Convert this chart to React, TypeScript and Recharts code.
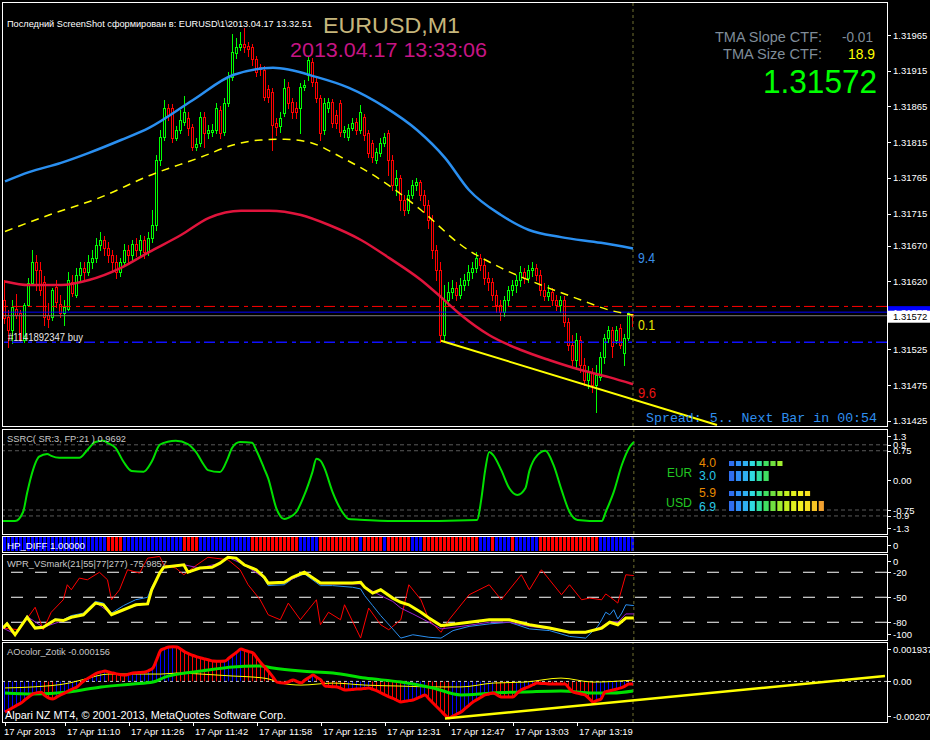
import React from 'react';
import { ComposedChart, Bar, Line, XAxis, YAxis, ReferenceLine } from 'recharts';

const FONT = '"Liberation Sans", Arial, sans-serif';
const MONO = '"Liberation Mono", "DejaVu Sans Mono", monospace';
const SLOTS = 221;
const CUR = 157;

type Pt = [number, number];

const timeTickBars = [0, 15, 31, 47, 63, 79, 95, 111, 127, 143];
const timeTickLabels = ['17 Apr 2013', '17 Apr 11:10', '17 Apr 11:26', '17 Apr 11:42', '17 Apr 11:58', '17 Apr 12:15', '17 Apr 12:31', '17 Apr 12:47', '17 Apr 13:03', '17 Apr 13:19'];

// M1 candles, price = 1.31 + pts / 100000
const openPts = [594,570,552,581,576,538,587,618,647,636, 619,573,570,612,588,576,581,619,601,629, 639,633,647,653,671,678,667,657,647,633, 647,664,657,672,664,678,661,681,699,790, 822,863,863,821,832,843,849,836,808,814, 850,828,829,832,860,829,870,906,940,948, 952,950,948,931,920,916,889,885,842,838, 856,892,871,863,863,892,909,927,899,877, 832,863,871,853,870,829,822,835,843,832, 850,828,814,790,800,814,828,790,755,765, 734,720,741,755,759,741,727,706,664,636, 545,594,605,611,601,615,622,633,639,653, 643,625,619,601,587,577,594,608,615,622, 633,625,636,639,629,608,600,605,594,587, 594,563,531,510,538,503,482,493,475,486, 514,541,552,538,555,520,541,574];
const closePts = [569,552,584,573,538,587,618,647,636,608, 570,567,608,591,576,584,622,604,629,639, 633,647,653,671,678,667,657,647,633,647, 664,657,672,664,678,661,681,699,790,822, 863,853,821,832,846,857,835,808,812,850, 828,832,832,863,828,870,906,941,948,952, 948,945,931,913,917,878,878,839,836,849, 891,870,857,857,892,895,930,899,877,828, 870,871,842,842,829,832,835,842,832,857, 825,800,794,801,814,822,790,755,765,734, 720,741,755,759,741,727,706,664,636,545, 594,605,611,601,615,622,633,639,653,643, 625,619,601,587,577,594,608,615,622,633, 625,636,639,629,608,600,605,594,587,594, 563,531,510,538,503,482,493,475,489,514, 541,552,530,552,531,541,576,572];
const highPts = [622,580,594,602,580,590,625,664,657,647, 628,590,611,622,601,594,633,629,639,647, 647,657,664,681,689,684,675,664,657,653, 672,671,678,681,685,684,689,720,797,832, 874,868,868,838,860,880,857,840,821,857, 857,839,840,870,866,877,913,966,961,969, 975,955,952,936,924,922,895,891,849,857, 903,899,877,871,898,902,934,933,905,881, 877,877,875,860,874,838,840,849,849,867, 854,832,818,807,821,828,832,797,776,769, 741,748,762,765,762,748,734,713,671,647, 615,619,622,619,625,630,643,647,661,658, 650,633,625,608,594,600,614,622,629,642, 639,643,647,644,636,618,615,611,601,600, 600,569,545,548,544,513,502,499,503,521, 546,558,556,558,560,546,577,575];
const lowPts = [562,528,534,569,535,535,586,615,608,601, 559,556,566,584,570,559,580,600,598,619, 622,629,639,647,664,657,647,636,625,628, 642,647,650,656,657,653,657,675,692,783, 818,846,815,818,828,839,825,804,804,810, 808,821,824,828,821,825,866,902,933,944, 941,936,923,908,909,874,871,804,825,829, 852,863,849,849,828,888,902,894,871,818, 826,857,836,835,824,822,818,832,826,828, 818,794,787,786,796,810,769,748,741,720, 713,716,737,748,734,717,695,653,622,535, 538,587,597,594,597,608,615,625,633,636, 616,608,594,577,566,572,587,601,605,614, 618,619,628,622,601,594,594,587,580,577, 558,524,503,499,493,475,471,465,437,482, 506,535,514,534,527,503,538,557];

const priceTicks = [1.31965, 1.31915, 1.31865, 1.31815, 1.31765, 1.31715, 1.3167, 1.3162, 1.31577, 1.31572, 1.31525, 1.31475, 1.31425];
const askPrice = 1.31577;
const bidPrice = 1.31572;
const sellLevel = 1.31585;
const buyLevel = 1.31535;

const tmaUpper: Pt[] = [[0,1.31760],[6,1.31773],[14,1.31786],[21,1.31800],[29,1.31818],[36,1.31835],[47,1.31874],[57,1.31909],[67,1.31919],[78,1.31906],[86,1.31891],[95,1.31864],[103,1.31832],[110,1.31793],[116,1.31748],[124,1.31713],[131,1.31692],[139,1.31682],[149,1.31674],[157,1.31666]];
const tmaMid: Pt[] = [[0,1.31690],[11,1.31713],[24,1.31738],[36,1.31768],[49,1.31794],[57,1.31811],[64,1.31818],[70,1.31819],[76,1.31815],[84,1.31794],[94,1.31762],[104,1.31720],[114,1.31671],[124,1.31639],[134,1.31615],[144,1.31594],[151,1.31580],[157,1.31573]];
const tmaLower: Pt[] = [[0,1.31620],[6,1.31615],[14,1.31615],[21,1.31622],[29,1.31639],[36,1.31661],[44,1.31685],[51,1.31709],[59,1.31719],[66,1.31719],[74,1.31713],[81,1.31699],[89,1.31678],[96,1.31653],[104,1.31622],[109,1.31598],[114,1.31573],[121,1.31545],[129,1.31524],[136,1.31510],[144,1.31496],[151,1.31486],[157,1.31476]];
const mainTrend: Pt[] = [[109, 1.31537], [178, 1.31419]];

const ssrcPts: Pt[] = [[0,-1.03],[3,-1.03],[5,-0.8],[6,-0.32],[7,0.1],[9,0.6],[11,0.67],[12,0.62],[14,0.57],[19,0.57],[21,0.77],[23,0.97],[25,1.0],[26,0.95],[28,0.82],[30,0.47],[32,0.24],[35,0.22],[37,0.47],[39,0.9],[41,0.98],[43,1.0],[46,0.92],[48,0.72],[50,0.39],[51,0.26],[54,0.21],[56,0.57],[57,0.82],[59,0.97],[62,0.95],[63,0.77],[65,0.3],[66,0.05],[68,-0.7],[70,-0.98],[71,-0.95],[73,-0.8],[75,-0.37],[77,0.21],[78,0.55],[79,0.5],[80,0.31],[82,-0.29],[85,-0.88],[86,-0.98],[90,-1.0],[99,-1.03],[118,-1.0],[119,-0.5],[120,0.26],[121,0.72],[122,0.64],[124,0.26],[126,-0.2],[128,-0.37],[130,-0.2],[131,0.24],[133,0.64],[135,0.75],[137,0.39],[139,-0.24],[141,-0.8],[143,-1.0],[149,-1.03],[150,-0.8],[152,-0.29],[154,0.39],[156,0.85],[157,0.97]];
const ssrcTicks = [1.3, 0.9, 0.75, 0, -0.75, -0.9, -1.3];
const ssrcTickLabels = ['1.3', '0.9', '0.75', '0.00', '-0.75', '-0.9', '-1.3'];
const ssrcLevels = [0.9, 0.75, -0.75, -0.9];

// HP_DIFF runs: [length in bars, state]
const hpRuns: [number, string][] = [[26,'b'],[4,'r'],[15,'b'],[4,'r'],[13,'b'],[12,'r'],[5,'b'],[10,'r'],[1,'b'],[5,'r'],[1,'b'],[6,'r'],[3,'b'],[14,'r'],[3,'b'],[1,'r'],[4,'b'],[1,'r'],[6,'b'],[15,'r'],[9,'b']];

const wprYellow: Pt[] = [[0,-87],[1,-82],[3,-95],[6,-74],[8,-87],[10,-86],[13,-77],[15,-78],[17,-74],[20,-71],[23,-57],[25,-59],[27,-71],[30,-65],[33,-59],[36,-58],[37,-41],[39,-21],[40,-14],[45,-11],[46,-20],[49,-15],[52,-14],[54,-9],[56,-2],[58,-3],[60,-11],[63,-17],[65,-26],[66,-33],[70,-32],[72,-26],[75,-20],[79,-33],[82,-33],[87,-33],[89,-32],[90,-38],[92,-45],[94,-41],[97,-51],[99,-56],[101,-59],[104,-68],[106,-75],[109,-84],[111,-83],[116,-80],[121,-77],[126,-77],[131,-83],[136,-87],[141,-92],[145,-92],[149,-87],[151,-80],[153,-83],[155,-75],[157,-75]];
const wprBlue: Pt[] = [[0,-86],[1,-80],[3,-94],[6,-72],[8,-86],[10,-85],[13,-76],[15,-77],[17,-72],[20,-69],[23,-55],[25,-57],[27,-69],[30,-60],[33,-53],[36,-50],[37,-38],[39,-21],[40,-14],[45,-11],[46,-20],[49,-15],[52,-14],[54,-9],[56,-2],[58,-4],[60,-12],[63,-18],[65,-28],[66,-36],[70,-35],[72,-28],[75,-22],[79,-36],[82,-36],[87,-38],[89,-40],[90,-48],[92,-60],[94,-72],[97,-88],[99,-99],[102,-95],[106,-98],[109,-99],[112,-90],[116,-85],[121,-82],[126,-80],[131,-88],[136,-90],[141,-97],[145,-99],[148,-85],[149,-77],[150,-68],[151,-71],[152,-65],[153,-76],[154,-69],[155,-59],[157,-60]];
const wprPurple: Pt[] = [[0,-87],[3,-94],[6,-73],[10,-86],[15,-78],[20,-70],[23,-56],[27,-70],[30,-64],[36,-57],[37,-40],[39,-21],[40,-14],[45,-11],[49,-15],[54,-9],[56,-2],[60,-11],[65,-27],[66,-34],[70,-33],[75,-21],[79,-34],[87,-34],[89,-34],[91,-40],[94,-48],[97,-55],[99,-63],[102,-70],[106,-80],[109,-88],[114,-85],[121,-80],[126,-80],[131,-85],[136,-88],[141,-93],[145,-93],[149,-85],[151,-79],[153,-80],[155,-70],[157,-70]];
const wprRed: Pt[] = [[0,-87],[4,-89],[8,-62],[10,-89],[12,-68],[15,-53],[16,-35],[17,-41],[19,-27],[21,-29],[24,-20],[26,-29],[27,-53],[29,-41],[31,-17],[34,-21],[36,-3],[39,-1],[40,-11],[43,-15],[45,-23],[48,-12],[51,-2],[56,-5],[59,-17],[61,-35],[64,-53],[66,-71],[69,-77],[71,-57],[74,-77],[76,-65],[78,-53],[79,-83],[81,-68],[84,-77],[85,-59],[88,-89],[89,-99],[91,-63],[94,-83],[96,-89],[99,-77],[101,-35],[104,-53],[106,-77],[109,-92],[111,-77],[116,-47],[121,-35],[124,-53],[129,-23],[131,-41],[134,-17],[136,-29],[139,-47],[141,-35],[144,-53],[146,-51],[149,-53],[150,-46],[152,-53],[153,-57],[155,-23],[157,-24]];
const wprTicks = [0, -20, -50, -80, -100];
const wprLevels = [-20, -50, -80];

// AO per bar, value = n / 100000
const aoValues = [-183,-170,-156,-142,-129,-110,-92,-75,-68,-65, -85,-100,-105,-93,-80,-69,-55,-44,-33,-12, 8,22,36,50,56,62,56,50,45,40, 38,44,50,52,54,56,66,80,135,188, 198,206,208,206,192,176,165,155,147,140, 134,128,122,121,121,122,140,158,176,194, 186,178,170,140,110,83,56,26,-4,-8, -10,-1,8,-1,-10,8,23,38,23,8, -28,-30,-32,-33,-42,-51,-50,-48,-46,-45, -42,-39,-48,-57,-69,-81,-92,-102,-113,-123, -119,-115,-111,-101,-91,-81,-105,-129,-153,-177, -201,-219,-207,-195,-183,-163,-143,-123,-109,-95, -81,-75,-69,-81,-93,-93,-93,-93,-72,-51, -41,-31,-20,-10,-12,-13,-15,-16,-16,-16, -16,-40,-63,-69,-75,-81,-102,-123,-114,-105, -63,-57,-51,-45,-39,-28,-16,-16];
const aoGreen: Pt[] = [[0,-0.00069],[7,-0.00075],[16,-0.00063],[24,-0.00033],[32,-0.00016],[37,-0.00004],[40,0.00026],[45,0.0005],[49,0.00062],[57,0.00086],[64,0.00092],[67,0.0008],[74,0.00062],[82,0.0005],[90,0.0002],[99,-0.00004],[107,-0.00039],[114,-0.00081],[119,-0.00075],[122,-0.00069],[130,-0.00063],[139,-0.00057],[147,-0.00069],[152,-0.00069],[157,-0.00057]];
const aoYellow: Pt[] = [[0,-0.00039],[7,-0.00033],[16,-0.0001],[20,0.00014],[26,0.00044],[32,0.00044],[39,0.00044],[43,0.0005],[49,0.00044],[57,0.00032],[62,0.00026],[66,0.00014],[69,-0.0001],[74,-0.00022],[82,-0.0001],[90,-0.00022],[99,-0.00028],[107,-0.00033],[114,-0.00033],[122,-0.0001],[130,-0.00004],[139,0.0002],[147,-0.00004],[157,0.00008]];
const aoTrend: Pt[] = [[110, -0.00222], [220, 0.00032]];
const aoTicks = [0.001937, 0, -0.002072];
const aoTickLabels = ['0.001937', '0.00', '-0.002072'];

const eurStrength = [4.0, 3.0];
const usdStrength = [5.9, 6.9];
const meterColors = ['#2f6fef', '#2f8ff7', '#30b0f0', '#30dce0', '#30e0a0', '#40e060', '#70e040', '#a0ee30', '#c4f020', '#e0f020', '#f4f020', '#f8e020', '#f8c424', '#f0a030'];

// ---------- table building ----------
const mkRows = () => Array.from({ length: SLOTS }, (_, i) => ({ i } as Record<string, any>));
const put = (rows: Record<string, any>[], key: string, pts: Pt[]) => pts.forEach(([i, v]) => { rows[i][key] = v; });
const px = (p: number) => 1.31 + p / 100000;

const mainRows = mkRows();
closePts.forEach((_, i) => {
  const o = px(openPts[i]), c = px(closePts[i]), h = px(highPts[i]), l = px(lowPts[i]);
  Object.assign(mainRows[i], { o, h, l, c, hl: [l, h] });
});
put(mainRows, 'up', tmaUpper);
put(mainRows, 'mid', tmaMid);
put(mainRows, 'lo', tmaLower);
put(mainRows, 'tr', mainTrend);

const ssrcRows = mkRows();
put(ssrcRows, 'v', ssrcPts);

const hpRows = mkRows();
{
  let k = 0;
  hpRuns.forEach(([n, s]) => { for (let j = 0; j < n; j++, k++) { hpRows[k].hp = 1; hpRows[k].hs = s; } });
}

const wprRows = mkRows();
put(wprRows, 'y', wprYellow);
put(wprRows, 'b', wprBlue);
put(wprRows, 'p', wprPurple);
put(wprRows, 'r', wprRed);

const aoRows = mkRows();
{
  let rising = true;
  aoValues.forEach((n, i) => {
    const v = n / 100000;
    if (i > 0 && n !== aoValues[i - 1]) rising = n > aoValues[i - 1];
    aoRows[i].r = v;
    aoRows[i].hc = rising ? '#0000ff' : '#ff0000';
  });
}
put(aoRows, 'g', aoGreen);
put(aoRows, 'y', aoYellow);
put(aoRows, 't', aoTrend);

// ---------- shapes & ticks ----------
const Candle = (props: any) => {
  const { x, y, width, height, payload } = props;
  if (!payload || payload.o == null) return null;
  const top = Math.min(y, y + height);
  const bot = Math.max(y, y + height);
  const { o, h, l, c } = payload;
  const py = (v: number) => (h === l ? top : top + ((h - v) / (h - l)) * (bot - top));
  const cx = Math.round(x + width / 2) - 1;
  const up = c >= o;
  const col = up ? '#00ff00' : '#ff0000';
  const bt = Math.round(Math.min(py(o), py(c)));
  const bb = Math.round(Math.max(py(o), py(c)));
  return (
    <g>
      <line x1={cx + 0.5} x2={cx + 0.5} y1={Math.round(top)} y2={Math.round(bot) + 1} stroke={col} strokeWidth={1} />
      {bb - bt >= 1 ? (
        <rect x={cx - 0.5} y={bt + 0.5} width={2} height={bb - bt} fill="#000" stroke={col} strokeWidth={1} />
      ) : (
        <line x1={cx - 1} x2={cx + 2} y1={bt + 0.5} y2={bt + 0.5} stroke={col} strokeWidth={1} />
      )}
    </g>
  );
};

const HpShape = (props: any) => {
  const { x, y, width, height, payload } = props;
  if (!payload || payload.hp == null) return null;
  const cx = Math.round(x + width / 2) - 2;
  return <rect x={cx} y={y} width={3} height={height} fill={payload.hs === 'r' ? '#ff0000' : '#0000ff'} />;
};

const HistShape = (props: any) => {
  const { x, y, width, height, payload } = props;
  if (!payload || payload.r == null) return null;
  const top = Math.min(y, y + height);
  const bot = Math.max(y, y + height);
  const cx = Math.round(x + width / 2) - 1;
  return <line x1={cx + 0.5} x2={cx + 0.5} y1={top} y2={bot} stroke={payload.hc} strokeWidth={1} />;
};

const tickText = { fontFamily: FONT, fontSize: 9.5 };

const PriceTick = (p: any) => {
  const v = p.payload.value;
  const y = p.y;
  const txt = v.toFixed(5);
  if (Math.abs(v - askPrice) < 1e-9) {
    return (
      <g>
        <rect x={888} y={y - 6} width={42} height={12} fill="#0000ff" />
        <text x={893} y={y + 3.5} fill="#fff" {...tickText}>{txt}</text>
      </g>
    );
  }
  if (Math.abs(v - bidPrice) < 1e-9) {
    return (
      <g>
        <rect x={888} y={y - 5} width={42} height={12} fill="#fff" />
        <text x={893} y={y + 4.5} fill="#000" {...tickText}>{txt}</text>
      </g>
    );
  }
  return (
    <g>
      <line x1={887} x2={891} y1={Math.round(y) + 0.5} y2={Math.round(y) + 0.5} stroke="#fff" />
      <text x={893} y={y + 3.5} fill="#fff" {...tickText}>{txt}</text>
    </g>
  );
};

const makeSubTick = (h: number, ticks: number[], labels: string[]) => (p: any) => {
  const v = p.payload.value;
  const idx = ticks.findIndex((t) => Math.abs(t - v) < 1e-12);
  const y = Math.min(Math.max(p.y, 7), h - 6);
  return (
    <g>
      <line x1={887} x2={891} y1={Math.round(y) + 0.5} y2={Math.round(y) + 0.5} stroke="#fff" />
      <text x={893} y={y + 3.5} fill="#fff" {...tickText}>{idx >= 0 ? labels[idx] : String(v)}</text>
    </g>
  );
};

const TimeTick = (p: any) => {
  const v = p.payload.value;
  const idx = timeTickBars.indexOf(v);
  const x = Math.round(p.x);
  return (
    <g>
      <line x1={x + 0.5} x2={x + 0.5} y1={80} y2={84} stroke="#fff" />
      <text x={idx === 0 ? 4 : x + 2} y={92.5} fill="#fff" {...tickText}>{idx >= 0 ? timeTickLabels[idx] : ''}</text>
    </g>
  );
};

const M = { top: 0, right: 0, bottom: 0, left: 3 };
const curLine = <ReferenceLine x={CUR} stroke="#6e6e30" strokeDasharray="3 3" ifOverflow="visible" />;
const lineProps = { dot: false, activeDot: false, connectNulls: true, isAnimationActive: false } as const;

function MainChart() {
  return (
    <ComposedChart width={930} height={424} data={mainRows} margin={M} barCategoryGap={0} barGap={0}>
      <XAxis dataKey="i" type="category" hide />
      <YAxis orientation="right" width={43} type="number" domain={[1.314176, 1.320112]} allowDataOverflow ticks={priceTicks} interval={0} tickLine={false} axisLine={false} tick={PriceTick} />
      {curLine}
      <ReferenceLine y={sellLevel} stroke="#ff0000" strokeDasharray="11 4 4 5" />
      <ReferenceLine y={askPrice} stroke="#0000ff" />
      <ReferenceLine y={bidPrice} stroke="#7a7a7a" />
      <ReferenceLine y={buyLevel} stroke="#1010ff" strokeDasharray="11 4 4 5" strokeWidth={1.5} />
      <Bar dataKey="hl" shape={Candle} isAnimationActive={false} />
      <Line type="monotone" dataKey="up" stroke="#2a8ff0" strokeWidth={2.5} {...lineProps} />
      <Line type="monotone" dataKey="mid" stroke="#ffff00" strokeWidth={1.5} strokeDasharray="8 6" {...lineProps} />
      <Line type="monotone" dataKey="lo" stroke="#e0143c" strokeWidth={2.5} {...lineProps} />
      <Line type="linear" dataKey="tr" stroke="#ffff00" strokeWidth={2} {...lineProps} />
    </ComposedChart>
  );
}

function SsrcChart() {
  return (
    <ComposedChart width={930} height={105} data={ssrcRows} margin={M}>
      <XAxis dataKey="i" type="category" hide />
      <YAxis orientation="right" width={43} type="number" domain={[-1.357, 1.3]} allowDataOverflow ticks={ssrcTicks} interval={0} tickLine={false} axisLine={false} tick={makeSubTick(105, ssrcTicks, ssrcTickLabels)} />
      {ssrcLevels.map((l) => <ReferenceLine key={l} y={l} stroke="#5a5a5a" strokeDasharray="4 3" />)}
      {curLine}
      <Line type="monotone" dataKey="v" stroke="#00e000" strokeWidth={2} {...lineProps} />
    </ComposedChart>
  );
}

function HpChart() {
  return (
    <ComposedChart width={930} height={14} data={hpRows} margin={M} barCategoryGap={0} barGap={0}>
      <XAxis dataKey="i" type="category" hide />
      <YAxis orientation="right" width={43} type="number" domain={[0, 1]} ticks={[0]} interval={0} tickLine={false} axisLine={false} tick={makeSubTick(14, [0], ['0'])} />
      <Bar dataKey="hp" shape={HpShape} isAnimationActive={false} />
      {curLine}
    </ComposedChart>
  );
}

function WprChart() {
  return (
    <ComposedChart width={930} height={86} data={wprRows} margin={M}>
      <XAxis dataKey="i" type="category" hide />
      <YAxis orientation="right" width={43} type="number" domain={[-101.3, 1.92]} allowDataOverflow ticks={wprTicks} interval={0} tickLine={false} axisLine={false} tick={makeSubTick(86, wprTicks, wprTicks.map(String))} />
      {wprLevels.map((l) => <ReferenceLine key={l} y={l} stroke="#ffffff" strokeDasharray="12 12" />)}
      {curLine}
      <Line type="linear" dataKey="r" stroke="#ff0000" strokeWidth={1} {...lineProps} />
      <Line type="linear" dataKey="b" stroke="#2a8ff0" strokeWidth={1} {...lineProps} />
      <Line type="linear" dataKey="p" stroke="#9b20d0" strokeWidth={1} {...lineProps} />
      <Line type="linear" dataKey="y" stroke="#ffff00" strokeWidth={3} {...lineProps} />
    </ComposedChart>
  );
}

function AoChart() {
  return (
    <ComposedChart width={930} height={98} data={aoRows} margin={M} barCategoryGap={0} barGap={0}>
      <XAxis dataKey="i" type="category" ticks={timeTickBars} interval={0} height={18} tickLine={false} axisLine={false} tick={TimeTick} />
      <YAxis orientation="right" width={43} type="number" domain={[-0.002429, 0.002358]} allowDataOverflow ticks={aoTicks} interval={0} tickLine={false} axisLine={false} tick={makeSubTick(80, aoTicks, aoTickLabels)} />
      <Bar dataKey="r" shape={HistShape} isAnimationActive={false} />
      <ReferenceLine y={0} stroke="#c8c8c8" strokeDasharray="3 3" />
      {curLine}
      <Line type="monotone" dataKey="y" stroke="#ffff00" strokeWidth={1} {...lineProps} />
      <Line type="monotone" dataKey="g" stroke="#00e000" strokeWidth={3} {...lineProps} />
      <Line type="monotone" dataKey="r" stroke="#ff0000" strokeWidth={3} {...lineProps} />
      <Line type="linear" dataKey="t" stroke="#ffff00" strokeWidth={2.5} {...lineProps} />
    </ComposedChart>
  );
}

const frames = [
  { t: 2, b: 426 },
  { t: 429, b: 534 },
  { t: 536, b: 552 },
  { t: 554, b: 640 },
  { t: 642, b: 722 },
];

type Lbl = { x: number; y: number; s: number; c: string; t: string; w?: number; mono?: boolean };

export default function App() {
  const labels: Lbl[] = [
    { x: 7, y: 26.5, s: 9, c: '#ffffff', t: 'Последний ScreenShot сформирован в: EURUSD\\1\\2013.04.17 13.32.51', w: 305 },
    { x: 323, y: 33.3, s: 22.5, c: '#c6b67c', t: 'EURUSD,M1', w: 137 },
    { x: 290, y: 56.7, s: 21, c: '#c71585', t: '2013.04.17 13:33:06', w: 197 },
    { x: 715, y: 41.7, s: 14.5, c: '#7f8c99', t: 'TMA Slope CTF:', w: 107 },
    { x: 842, y: 41.7, s: 14.5, c: '#7f8c99', t: '-0.01', w: 31 },
    { x: 723, y: 59.3, s: 14.5, c: '#7f8c99', t: 'TMA Size CTF:', w: 99 },
    { x: 848, y: 59.3, s: 14.5, c: '#ffff00', t: '18.9', w: 27 },
    { x: 763, y: 92.7, s: 33, c: '#00ff00', t: bidPrice.toFixed(5), w: 114 },
    { x: 638, y: 262.7, s: 14, c: '#3a8ee6', t: '9.4', w: 17 },
    { x: 638, y: 330, s: 14, c: '#e8e800', t: '0.1', w: 17 },
    { x: 638, y: 398, s: 14, c: '#e81414', t: '9.6', w: 18 },
    { x: 646, y: 421.5, s: 13, c: '#2f8fef', t: 'Spread: 5.. Next Bar in 00:54', w: 231, mono: true },
    { x: 8, y: 341, s: 10.5, c: '#e6e6e6', t: '#1141892347 buy', w: 75 },
    { x: 7, y: 441.5, s: 9.5, c: '#c8c8c8', t: 'SSRC( SR:3, FP:21 ) 0.9692', w: 119 },
    { x: 667, y: 477.3, s: 13.5, c: '#22c822', t: 'EUR', w: 25 },
    { x: 666, y: 507.3, s: 13.5, c: '#22c822', t: 'USD', w: 26 },
    { x: 699, y: 466.7, s: 12.5, c: '#e88a00', t: eurStrength[0].toFixed(1), w: 17 },
    { x: 699, y: 480, s: 12.5, c: '#28c8e8', t: eurStrength[1].toFixed(1), w: 17 },
    { x: 699, y: 497.3, s: 12.5, c: '#e88a00', t: usdStrength[0].toFixed(1), w: 17 },
    { x: 699, y: 510.7, s: 12.5, c: '#28c8e8', t: usdStrength[1].toFixed(1), w: 17 },
    { x: 7, y: 548.5, s: 9.5, c: '#ffffff', t: 'HP_DIFF 1.00000', w: 78 },
    { x: 7, y: 567, s: 9.5, c: '#c8c8c8', t: 'WPR_VSmark(21|55|77|277) -75.9857', w: 160 },
    { x: 7, y: 655, s: 9.5, c: '#c8c8c8', t: 'AOcolor_Zotik -0.000156', w: 103 },
    { x: 5, y: 719.3, s: 11.5, c: '#ffffff', t: 'Alpari NZ MT4, © 2001-2013, MetaQuotes Software Corp.', w: 281 },
  ];
  const meters = [
    { y: 461, h: 5, v: eurStrength[0] },
    { y: 471, h: 10, v: eurStrength[1] },
    { y: 491, h: 5, v: usdStrength[0] },
    { y: 501, h: 10, v: usdStrength[1] },
  ];
  return (
    <div style={{ position: 'absolute', left: 0, top: 0, width: 930, height: 740, background: '#000', overflow: 'hidden' }}>
      <div style={{ position: 'absolute', left: 0, top: 2 }}><MainChart /></div>
      <div style={{ position: 'absolute', left: 0, top: 429 }}><SsrcChart /></div>
      <div style={{ position: 'absolute', left: 0, top: 537 }}><HpChart /></div>
      <div style={{ position: 'absolute', left: 0, top: 554 }}><WprChart /></div>
      <div style={{ position: 'absolute', left: 0, top: 642 }}><AoChart /></div>
      {frames.map((f) => (
        <div key={f.t} style={{ position: 'absolute', left: 2, top: f.t, width: 886, height: f.b - f.t + 1, border: '1px solid #fff', boxSizing: 'border-box', pointerEvents: 'none' }} />
      ))}
      <svg width={930} height={740} style={{ position: 'absolute', left: 0, top: 0, pointerEvents: 'none' }}>
        {meters.map((m, r) =>
          Array.from({ length: Math.round(m.v * 2) }, (_, k) => (
            <rect key={`${r}-${k}`} x={729 + k * 6.9} y={m.y} width={5.2} height={m.h} fill={meterColors[k]} />
          ))
        )}
        {labels.map((l, k) => (
          <text key={k} x={l.x} y={l.y} fill={l.c} fontSize={l.s} fontFamily={l.mono ? MONO : FONT} textLength={l.w} lengthAdjust="spacingAndGlyphs">{l.t}</text>
        ))}
      </svg>
    </div>
  );
}
